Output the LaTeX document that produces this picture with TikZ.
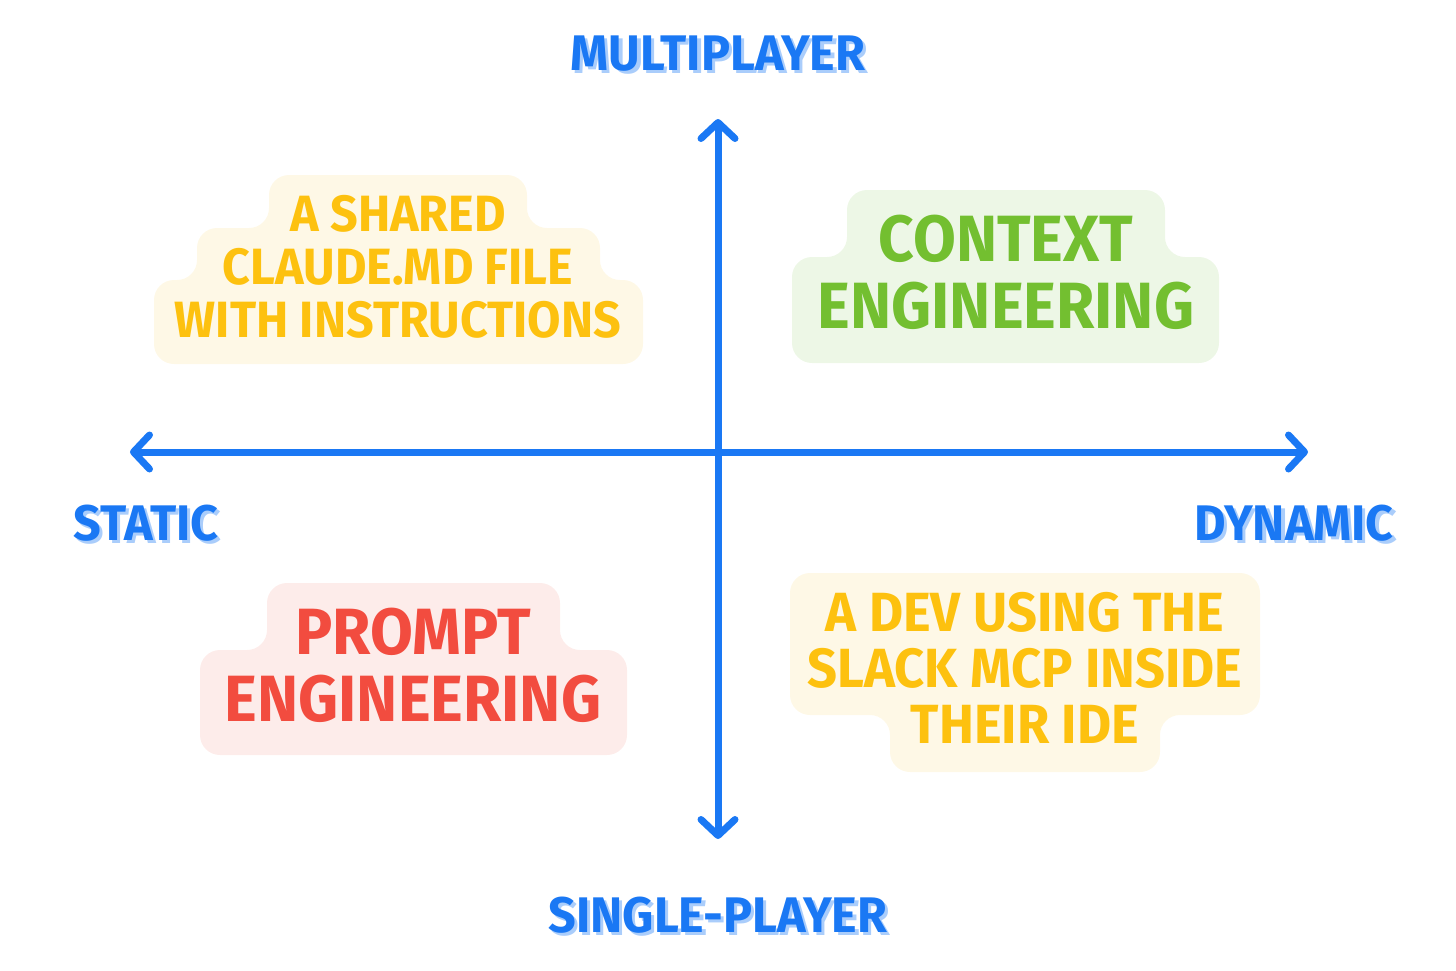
\documentclass[tikz,border=0pt]{standalone}
\usepackage{fontspec}
\usepackage{tikz}
\usetikzlibrary{arrows.meta}
\newfontfamily\ronde{Fira Sans}[FakeStretch=0.95]
\newfontfamily\rondeaxe{Fira Sans}[FakeStretch=0.97]
\definecolor{bleu}{HTML}{1A78F4}
\definecolor{bleuombre}{HTML}{AACDFB}
\definecolor{jaune}{HTML}{FDC10F}
\definecolor{jauneclair}{HTML}{FEF8E6}
\definecolor{vert}{HTML}{73BF30}
\definecolor{vertclair}{HTML}{EDF7E6}
\definecolor{rouge}{HTML}{F24C3F}
\definecolor{rougeclair}{HTML}{FDECEA}
\newcommand\ombre[1]{\rlap{\hspace{1.6pt}\raisebox{-1.6pt}{\color{bleuombre}#1}}#1}
\tikzset{
  pointe/.tip={Straight Barb[round,length=8pt,width=17pt]},
  axe/.style={pointe-pointe,line width=3.5pt,color=bleu},
  etiquette/.style={font=\rondeaxe\bfseries\fontsize{25}{25}\selectfont,text=bleu,inner sep=0pt},
  texte/.style={align=center,inner sep=0pt},
  fond/.style={rounded corners=10pt},
}
\begin{document}
\begin{tikzpicture}[x=0.5pt,y=-0.5pt]
  \useasboundingbox (0,0) rectangle (1456,970);
  % fonds des quatre quadrants
  \fill[fond,jauneclair] (269,175) -- (527,175) -- (527,228) -- (600,228) -- (600,280) -- (643,280)
    -- (643,364) -- (154,364) -- (154,280) -- (197,280) -- (197,228) -- (269,228) -- cycle;
  \fill[fond,vertclair] (847,190) -- (1165,190) -- (1165,257) -- (1219,257) -- (1219,363)
    -- (792,363) -- (792,257) -- (847,257) -- cycle;
  \fill[fond,rougeclair] (267,583) -- (560,583) -- (560,650) -- (627,650) -- (627,755)
    -- (200,755) -- (200,650) -- (267,650) -- cycle;
  \fill[fond,jauneclair] (790,573) -- (1260,573) -- (1260,715) -- (1160,715) -- (1160,772)
    -- (890,772) -- (890,715) -- (790,715) -- cycle;
  % axes
  \coordinate (gauche) at (130,452);
  \coordinate (droite) at (1308,452);
  \coordinate (haut) at (718,119);
  \coordinate (bas) at (718,839);
  \draw[axe] (gauche) -- (droite);
  \draw[axe] (bas) -- (haut);
  % etiquettes des axes
  \node[etiquette] (multi) at (718,55) {\ombre{MULTIPLAYER}};
  \node[etiquette] (solo) at (718,917) {\ombre{SINGLE-PLAYER}};
  \node[etiquette] (statique) at (146,525) {\ombre{STATIC}};
  \node[etiquette] (dynamique) at (1294,525) {\ombre{DYNAMIC}};
  % textes des quadrants
  \node[texte,text=jaune,font=\ronde\bfseries\fontsize{25.5}{26.5}\selectfont] (partage) at (398,266.5)
    {A SHARED\\CLAUDE.MD FILE\\WITH INSTRUCTIONS};
  \node[texte,text=vert,font=\ronde\bfseries\fontsize{32.7}{33.5}\selectfont] (contexte) at (1006,272.5)
    {CONTEXT\\ENGINEERING};
  \node[texte,text=rouge,font=\ronde\bfseries\fontsize{32.7}{33.5}\selectfont] (prompt) at (413,665)
    {PROMPT\\ENGINEERING};
  \node[texte,text=jaune,font=\ronde\bfseries\fontsize{27.6}{28}\selectfont] (dev) at (1025,668)
    {A DEV USING THE\\SLACK MCP INSIDE\\THEIR IDE};
\end{tikzpicture}
\end{document}
